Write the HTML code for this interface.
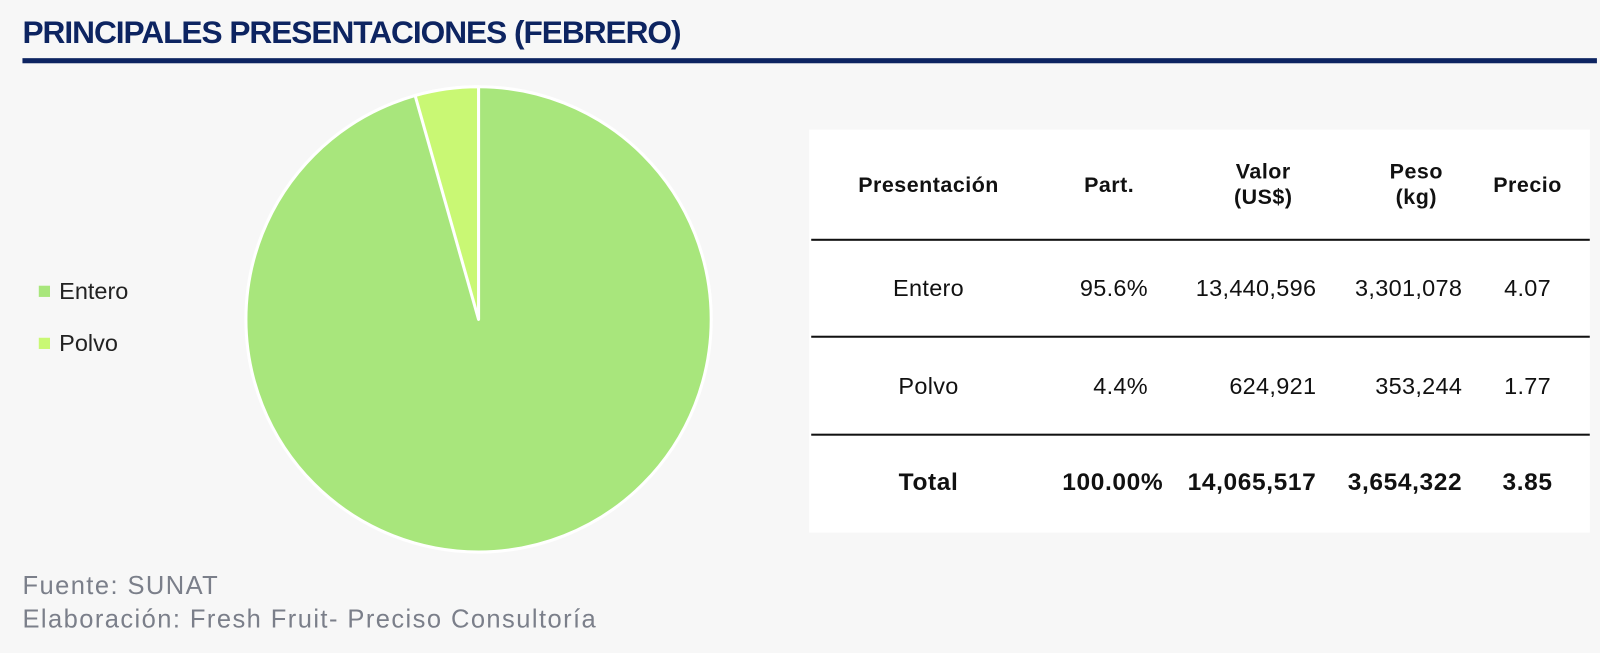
<!DOCTYPE html>
<html><head><meta charset="utf-8"><style>
body{margin:0;width:1600px;height:653px;background:#f7f7f7;font-family:"Liberation Sans",sans-serif;overflow:hidden}
#w{position:absolute;left:0;top:0;width:1568px;height:640px;transform:scale(1.0204);transform-origin:0 0}
.t{position:absolute;left:22px;top:14px;font-size:31px;font-weight:bold;color:#0d2461;letter-spacing:-1px;white-space:nowrap}
.rule{position:absolute;left:22px;top:57px;width:1543px;height:5px;background:#0d2461}
.leg{position:absolute;left:38px;font-size:23px;color:#222}
.leg i{display:inline-block;width:11px;height:11px;margin-right:9px;vertical-align:2px}
.tb{position:absolute;left:793px;top:127px;width:765px;height:395px;background:#fff}
.c{position:absolute;font-size:23px;color:#111;white-space:nowrap;height:30px;line-height:30px;letter-spacing:0.3px}
.cc{text-align:center}
.h{font-weight:bold;font-size:21px;text-align:center;line-height:25px;height:auto;letter-spacing:0.5px}
.b{font-weight:bold;font-size:24px;letter-spacing:0.6px}
.ln{position:absolute;left:795px;width:763px;height:2px;background:#111}
.f{position:absolute;left:22px;font-size:25px;color:#7b7f8a;letter-spacing:1.4px}
</style></head><body><div id="w">
<div class="t">PRINCIPALES PRESENTACIONES (FEBRERO)</div>
<div class="rule"></div>
<svg style="position:absolute;left:0;top:0" width="760" height="560">
<circle cx="469" cy="313" r="228" fill="#a8e67c" stroke="#fff" stroke-width="3"/>
<path d="M469 313 L469 85 A228 228 0 0 0 406.8 93.6 Z" fill="#c9f874" stroke="#fff" stroke-width="3" stroke-linejoin="round"/>
</svg>
<div class="leg" style="top:272px"><i style="background:#a8e67c"></i>Entero</div>
<div class="leg" style="top:323px"><i style="background:#c9f874"></i>Polvo</div>
<div class="tb"></div>
<div class="c h" style="left:820px;width:180px;top:169px">Presentación</div>
<div class="c h" style="left:1037px;width:100px;top:169px">Part.</div>
<div class="c h" style="left:1178px;width:120px;top:156px">Valor<br>(US$)</div>
<div class="c h" style="left:1328px;width:120px;top:156px">Peso<br>(kg)</div>
<div class="c h" style="left:1447px;width:100px;top:169px">Precio</div>
<div class="ln" style="top:234px"></div>
<div class="ln" style="top:329px"></div>
<div class="ln" style="top:425px"></div>
<div class="c cc" style="left:850px;width:120px;top:267px">Entero</div>
<div class="c" style="right:443px;top:267px">95.6%</div>
<div class="c" style="right:278px;top:267px">13,440,596</div>
<div class="c" style="right:135px;top:267px">3,301,078</div>
<div class="c cc" style="left:1447px;width:100px;top:267px">4.07</div>
<div class="c cc" style="left:850px;width:120px;top:363px">Polvo</div>
<div class="c" style="right:443px;top:363px">4.4%</div>
<div class="c" style="right:278px;top:363px">624,921</div>
<div class="c" style="right:135px;top:363px">353,244</div>
<div class="c cc" style="left:1447px;width:100px;top:363px">1.77</div>
<div class="c b cc" style="left:850px;width:120px;top:458px">Total</div>
<div class="c b" style="right:428px;top:458px">100.00%</div>
<div class="c b" style="right:278px;top:458px">14,065,517</div>
<div class="c b" style="right:135px;top:458px">3,654,322</div>
<div class="c b cc" style="left:1447px;width:100px;top:458px">3.85</div>
<div class="f" style="top:560px">Fuente: SUNAT</div>
<div class="f" style="top:593px">Elaboración: Fresh Fruit- Preciso Consultoría</div>
</div></body></html>
